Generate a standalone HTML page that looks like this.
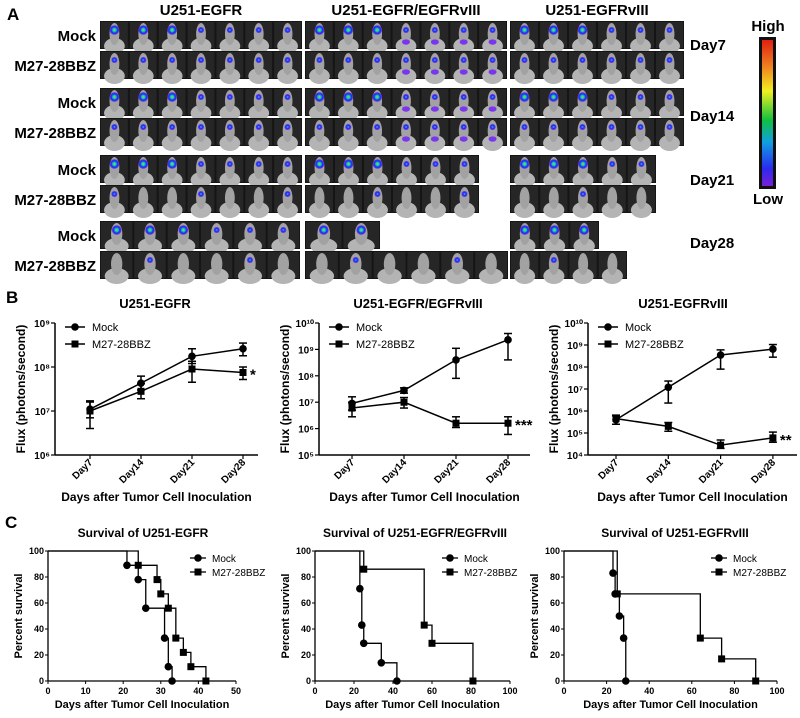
<!DOCTYPE html>
<html><head><meta charset="utf-8">
<style>
html,body{margin:0;padding:0;background:#fff;}
svg{display:block;font-family:"Liberation Sans",Arial,sans-serif;}
</style></head>
<body>
<svg id="fig" width="800" height="718" viewBox="0 0 800 718" xmlns="http://www.w3.org/2000/svg">
<defs>
<linearGradient id="cbar" x1="0" y1="1" x2="0" y2="0">
<stop offset="0" stop-color="#7a1fd6"/><stop offset="0.12" stop-color="#2a2af0"/><stop offset="0.3" stop-color="#10a0e0"/>
<stop offset="0.45" stop-color="#10c040"/><stop offset="0.65" stop-color="#f0f020"/><stop offset="0.82" stop-color="#f08020"/><stop offset="1" stop-color="#e02010"/>
</linearGradient>
<radialGradient id="blobG"><stop offset="0" stop-color="#a0e020"/><stop offset="0.35" stop-color="#10c0c0"/><stop offset="0.65" stop-color="#1030f0"/><stop offset="1" stop-color="#8030f0"/></radialGradient>
<radialGradient id="blobB"><stop offset="0" stop-color="#40c0f0"/><stop offset="0.5" stop-color="#1030f0"/><stop offset="1" stop-color="#8030f0"/></radialGradient>
</defs>
<g id="panelA"></g>
<g id="panelB"></g>
<g id="panelC"></g>
</svg>
<script>
// ---------- Panel B data ----------
const fluxCats = ["Day7","Day14","Day21","Day28"];
const egfrMock = [1.1e7, 4.3e7, 1.75e8, 2.6e8];
const egfrMockLo = [7e6, 3e7, 1.2e8, 1.8e8];
const egfrMockHi = [1.7e7, 6.2e7, 2.6e8, 3.5e8];
const egfrCar = [1.0e7, 2.8e7, 9e7, 7.5e7];
const egfrCarLo = [4e6, 1.9e7, 4.5e7, 5.2e7];
const egfrCarHi = [1.6e7, 4.2e7, 1.35e8, 1.0e8];
const dualMock = [9e6, 2.8e7, 4e8, 2.3e9];
const dualMockLo = [5e6, 2.2e7, 8e7, 4e8];
const dualMockHi = [1.6e7, 3.5e7, 1.1e9, 4e9];
const dualCar = [6e6, 1e7, 1.6e6, 1.6e6];
const dualCarLo = [2.8e6, 6e6, 1.1e6, 6e5];
const dualCarHi = [1e7, 1.5e7, 2.8e6, 2.8e6];
const viiiMock = [4e5, 1.2e7, 3.5e8, 6.5e8];
const viiiMockLo = [2.5e5, 2.3e6, 8e7, 2.8e8];
const viiiMockHi = [6e5, 2.3e7, 6e8, 1.05e9];
const viiiCar = [4.5e5, 2e5, 2.8e4, 6e4];
const viiiCarLo = [2.5e5, 1.2e5, 2e4, 3.8e4];
const viiiCarHi = [6.5e5, 3e5, 4.8e4, 1.1e5];
const fluxTicks1 = ["10⁶","10⁷","10⁸","10⁹"];
const fluxTicks2 = ["10⁵","10⁶","10⁷","10⁸","10⁹","10¹⁰"];
const fluxTicks3 = ["10⁴","10⁵","10⁶","10⁷","10⁸","10⁹","10¹⁰"];
// ---------- Panel C data ----------
const s1MockT = [21,24,26,31,32,33];
const s1MockS = [89,78,56,33,11,0];
const s1CarT = [24,29,30,32,34,36,38,42];
const s1CarS = [89,78,67,56,33,22,11,0];
const s2MockT = [23,24,25,34,42];
const s2MockS = [71,43,29,14,0];
const s2CarT = [25,56,60,81];
const s2CarS = [86,43,29,0];
const s3MockT = [23,24,26,28,29];
const s3MockS = [83,67,50,33,0];
const s3CarT = [25,64,74,90];
const s3CarS = [67,33,17,0];
const survTicksY = [0,20,40,60,80,100];
const survTicks1 = [0,10,20,30,40,50];
const survTicks2 = [0,20,40,60,80,100];

const NS="http://www.w3.org/2000/svg";
function mk(parent, tag, attrs, text){
  const e=document.createElementNS(NS,tag);
  for(const k in attrs) e.setAttribute(k,attrs[k]);
  if(text!==undefined) e.textContent=text;
  parent.appendChild(e); return e;
}
// ---------- Panel A ----------
const A=document.getElementById('panelA');
const la=mk(A,'text',{x:7,y:20,'font-size':17,'font-weight':'bold'},'A');


const heads=[["U251-EGFR",201],["U251-EGFR/EGFRvIII",406],["U251-EGFRvIII",597]];
heads.forEach(h=>{const t=mk(A,'text',{x:h[1],y:15,'font-size':15,'font-weight':'bold','text-anchor':'middle'},h[0]);

});
const rows=[[21,'Mock'],[51,'M27-28BBZ'],[88,'Mock'],[118,'M27-28BBZ'],[155,'Mock'],[185,'M27-28BBZ'],[221,'Mock'],[251,'M27-28BBZ']];
const strips=[
 [[100,302,7],[305,507,7],[510,684,6]],
 [[100,302,7],[305,507,7],[510,684,6]],
 [[100,302,7],[305,507,7],[510,684,6]],
 [[100,302,7],[305,507,7],[510,684,6]],
 [[100,302,7],[305,479,6],[510,656,5]],
 [[100,302,7],[305,479,6],[510,656,5]],
 [[100,300,6],[305,380,2],[510,599,3]],
 [[100,300,6],[305,508,6],[510,627,4]]];
let cnt=0;
rows.forEach((r,ri)=>{
  const y=r[0], h=28;
  const lt=mk(A,'text',{x:96,y:y+20,'font-size':15,'font-weight':'bold','text-anchor':'end'},r[1]);
  
  
  strips[ri].forEach((s,si)=>{
    const g=mk(A,'g',{});
    
    
    mk(g,'rect',{x:s[0],y:y,width:s[1]-s[0],height:h,fill:'#151515'});
    const w=(s[1]-s[0])/s[2];
    for(let i=0;i<s[2];i++){
      cnt++;
      const cx=s[0]+w*i+w/2;
      mk(g,'rect',{x:s[0]+w*i+1,y:y+1,width:w-2,height:h-2,fill:'#262626'});
      mk(g,'ellipse',{cx:cx,cy:y+h-3,rx:w*0.36,ry:8,fill:'#b4b4b4'});
      mk(g,'ellipse',{cx:cx,cy:y+13,rx:w*0.17,ry:11,fill:'#a2a2a2'});
      const late = ri%2===1 && ri>=4;
      if(!late || cnt%3===0){
        const big=(ri%2===0)&&(i<3);
        mk(g,'circle',{cx:cx,cy:y+9,r:big?4.8:3,fill:big?'url(#blobG)':'url(#blobB)'});
      }
      if(si===1 && ri<4 && i>=3) mk(g,'ellipse',{cx:cx,cy:y+21,rx:4,ry:2.6,fill:'#7a35f0'});
    }
  });
});
[["Day7",50],["Day14",121],["Day21",185],["Day28",248]].forEach(d=>{
  const t=mk(A,'text',{x:690,y:d[1],'font-size':15,'font-weight':'bold'},d[0]);
  
  });
const cb=mk(A,'rect',{x:759,y:37,width:17,height:152,fill:'#111'});


const cb2=mk(A,'rect',{x:762,y:40,width:11,height:146,fill:'url(#cbar)'});


const th=mk(A,'text',{x:768,y:31,'font-size':15,'font-weight':'bold','text-anchor':'middle'},'High');


const tl=mk(A,'text',{x:768,y:204,'font-size':15,'font-weight':'bold','text-anchor':'middle'},'Low');



// ---------- Panel B ----------
const B=document.getElementById('panelB');
const lb=mk(B,'text',{x:6,y:303,'font-size':17,'font-weight':'bold'},'B');


function marker(g,x,y,sq){
  if(sq) mk(g,'rect',{x:x-3.5,y:y-3.5,width:7,height:7,fill:'#000'});
  else mk(g,'circle',{cx:x,cy:y,r:3.8,fill:'#000'});
}
function fluxChart(o){
  const g=mk(B,'g',{});
  
  
  const top=323,bot=455;
  const ys=v=>bot-(Math.log10(v)-o.min)/(o.max-o.min)*(bot-top);
  const xs=i=>o.x0+i*o.dx;
  const tt=mk(g,'text',{x:o.tx,y:308,'font-size':13,'font-weight':'bold','text-anchor':'middle'},o.title);
  
  
  mk(g,'line',{x1:o.ax,y1:top,x2:o.ax,y2:bot,stroke:'#000','stroke-width':1.5});
  mk(g,'line',{x1:o.ax,y1:bot,x2:o.ax2,y2:bot,stroke:'#000','stroke-width':1.5});
  o.ticks.forEach((t,i)=>{
    const y=ys(Math.pow(10,o.min+i));
    mk(g,'line',{x1:o.ax-4,y1:y,x2:o.ax,y2:y,stroke:'#000','stroke-width':1.2});
    const tl=mk(g,'text',{x:o.ax-5,y:y+4,'font-size':10,'font-weight':'bold','text-anchor':'end'},t);
    
    
  });
  fluxCats.forEach((c,i)=>{
    const x=xs(i);
    mk(g,'line',{x1:x,y1:bot,x2:x,y2:bot+4,stroke:'#000','stroke-width':1.2});
    const xl=mk(g,'text',{x:x+3,y:bot+8,'font-size':10,'font-weight':'bold','text-anchor':'end',transform:`rotate(-45 ${x+3} ${bot+8})`},c);
    
    
  });
  const xt=mk(g,'text',{x:(o.ax+o.ax2)/2,y:501,'font-size':12,'font-weight':'bold','text-anchor':'middle'},'Days after Tumor Cell Inoculation');
  
  
  const yt=mk(g,'text',{x:0,y:0,'font-size':12,'font-weight':'bold','text-anchor':'middle',transform:`translate(${o.ax-30},${(top+bot)/2}) rotate(-90)`},'Flux (photons/second)');
  
  
  [[o.mock,o.mlo,o.mhi,false,'mock-series'],[o.car,o.clo,o.chi,true,'car-series']].forEach(s=>{
    const sg=mk(g,'g',{});
    
    
    mk(sg,'polyline',{points:s[0].map((v,i)=>xs(i)+','+ys(v)).join(' '),fill:'none',stroke:'#000','stroke-width':1.5});
    s[0].forEach((v,i)=>{
      const x=xs(i);
      mk(sg,'line',{x1:x,y1:ys(s[1][i]),x2:x,y2:ys(s[2][i]),stroke:'#000','stroke-width':1.5});
      mk(sg,'line',{x1:x-4,y1:ys(s[1][i]),x2:x+4,y2:ys(s[1][i]),stroke:'#000','stroke-width':1.5});
      mk(sg,'line',{x1:x-4,y1:ys(s[2][i]),x2:x+4,y2:ys(s[2][i]),stroke:'#000','stroke-width':1.5});
      marker(sg,x,ys(v),s[3]);
    });
  });
  const st=mk(g,'text',{x:xs(3)+7,y:ys(o.car[3])+7,'font-size':15,'font-weight':'bold'},o.star);
  
  
  const lx=o.ax+10;
  [["Mock",false,327],["M27-28BBZ",true,344]].forEach(l=>{
    const lg=mk(g,'g',{});
    
    
    mk(lg,'line',{x1:lx,y1:l[2],x2:lx+20,y2:l[2],stroke:'#000','stroke-width':1.5});
    marker(lg,lx+10,l[2],l[1]);
    mk(lg,'text',{x:lx+27,y:l[2]+4,'font-size':11},l[0]);
  });
}
fluxChart({name:'flux-chart-egfr',title:'U251-EGFR',tx:155,ax:55,ax2:258,x0:90,dx:51,min:6,max:9,ticks:fluxTicks1,
 mock:egfrMock,mlo:egfrMockLo,mhi:egfrMockHi,car:egfrCar,clo:egfrCarLo,chi:egfrCarHi,star:'*'});
fluxChart({name:'flux-chart-egfr-egfrviii',title:'U251-EGFR/EGFRvIII',tx:418,ax:319,ax2:530,x0:352,dx:52,min:5,max:10,ticks:fluxTicks2,
 mock:dualMock,mlo:dualMockLo,mhi:dualMockHi,car:dualCar,clo:dualCarLo,chi:dualCarHi,star:'***'});
fluxChart({name:'flux-chart-egfrviii',title:'U251-EGFRvIII',tx:683,ax:588,ax2:797,x0:616,dx:52.3,min:4,max:10,ticks:fluxTicks3,
 mock:viiiMock,mlo:viiiMockLo,mhi:viiiMockHi,car:viiiCar,clo:viiiCarLo,chi:viiiCarHi,star:'**'});

// ---------- Panel C ----------
const C=document.getElementById('panelC');
const lc=mk(C,'text',{x:5,y:528,'font-size':17,'font-weight':'bold'},'C');


function survChart(o){
  const g=mk(C,'g',{});
  
  
  const top=551,bot=681;
  const ys=v=>bot-v/100*(bot-top);
  const xs=v=>o.ax+v/o.xmax*(o.ax2-o.ax);
  const tt=mk(g,'text',{x:o.tx,y:537,'font-size':12,'font-weight':'bold','text-anchor':'middle'},o.title);
  
  
  mk(g,'line',{x1:o.ax,y1:top,x2:o.ax,y2:bot,stroke:'#000','stroke-width':1.3});
  mk(g,'line',{x1:o.ax,y1:bot,x2:o.ax2,y2:bot,stroke:'#000','stroke-width':1.3});
  survTicksY.forEach(t=>{
    const y=ys(t);
    mk(g,'line',{x1:o.ax-3,y1:y,x2:o.ax,y2:y,stroke:'#000'});
    const tl=mk(g,'text',{x:o.ax-4,y:y+3,'font-size':9,'font-weight':'bold','text-anchor':'end'},t);
    
    
  });
  o.xt.forEach(t=>{
    const x=xs(t);
    mk(g,'line',{x1:x,y1:bot,x2:x,y2:bot+3,stroke:'#000'});
    const tl=mk(g,'text',{x:x,y:bot+13,'font-size':9,'font-weight':'bold','text-anchor':'middle'},t);
    
    
  });
  const xa=mk(g,'text',{x:(o.ax+o.ax2)/2,y:708,'font-size':11,'font-weight':'bold','text-anchor':'middle'},'Days after Tumor Cell Inoculation');
  
  
  const ya=mk(g,'text',{x:0,y:0,'font-size':11,'font-weight':'bold','text-anchor':'middle',transform:`translate(${o.ax-26},${(top+bot)/2}) rotate(-90)`},'Percent survival');
  
  
  [[o.mt,o.ms,false,'mock-survival-curve'],[o.ct,o.cs,true,'car-survival-curve']].forEach(s=>{
    const sg=mk(g,'g',{});
    
    
    let pts=[[xs(0),ys(100)]], prev=100;
    s[0].forEach((t,i)=>{pts.push([xs(t),ys(prev)]);pts.push([xs(t),ys(s[1][i])]);prev=s[1][i];});
    mk(sg,'polyline',{points:pts.map(p=>p.join(',')).join(' '),fill:'none',stroke:'#000','stroke-width':1.3});
    s[0].forEach((t,i)=>marker(sg,xs(t),ys(s[1][i]),s[2]));
  });
  const lx=o.lx;
  [["Mock",false,558],["M27-28BBZ",true,572]].forEach(l=>{
    const lg=mk(g,'g',{});
    
    
    mk(lg,'line',{x1:lx,y1:l[2],x2:lx+16,y2:l[2],stroke:'#000','stroke-width':1.3});
    marker(lg,lx+8,l[2],l[1]);
    mk(lg,'text',{x:lx+22,y:l[2]+4,'font-size':10},l[0]);
  });
}
survChart({name:'survival-chart-egfr',title:'Survival of U251-EGFR',tx:143,ax:48,ax2:236,xmax:50,xt:survTicks1,lx:190,
 mt:s1MockT,ms:s1MockS,ct:s1CarT,cs:s1CarS});
survChart({name:'survival-chart-egfr-egfrviii',title:'Survival of U251-EGFR/EGFRvIII',tx:415,ax:315,ax2:510,xmax:100,xt:survTicks2,lx:442,
 mt:s2MockT,ms:s2MockS,ct:s2CarT,cs:s2CarS});
survChart({name:'survival-chart-egfrviii',title:'Survival of U251-EGFRvIII',tx:675,ax:564,ax2:777,xmax:100,xt:survTicks2,lx:711,
 mt:s3MockT,ms:s3MockS,ct:s3CarT,cs:s3CarS});
</script>
</body></html>
